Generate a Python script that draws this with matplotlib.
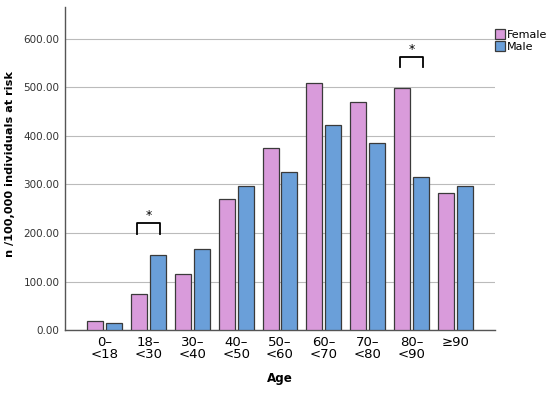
import numpy as np
import matplotlib.pyplot as plt

# age groups and incidence per 100,000 at risk
age_groups = ['0–\n<18', '18–\n<30', '30–\n<40', '40–\n<50', '50–\n<60',
              '60–\n<70', '70–\n<80', '80–\n<90', '≥90']
female = [18, 75, 116, 271, 375, 509, 470, 498, 282]
male = [15, 155, 167, 297, 326, 422, 386, 315, 297]

# significant differences: (group index, bracket height)
sig_groups = [1, 7]
sig_heights = [220, 563]

pink = '#D99BDB'
blue = '#6A9FD9'

fig = plt.figure(figsize=(5.5, 3.94), dpi=100)
ax = fig.add_axes([0.118, 0.162, 0.782, 0.82])

x = np.arange(len(age_groups))
w = 0.365
off = 0.215
ax.bar(x - off, female, w, color=pink, edgecolor='#3a3a3a', linewidth=0.9, label='Female', zorder=3)
ax.bar(x + off, male, w, color=blue, edgecolor='#3a3a3a', linewidth=0.9, label='Male', zorder=3)

for g, h in zip(sig_groups, sig_heights):
    ax.plot([g - 0.27, g - 0.27, g + 0.27, g + 0.27], [h - 22, h, h, h - 22],
            color='black', linewidth=1.3, zorder=4)
    ax.text(g, h + 2, '*', ha='center', va='bottom', fontsize=9)

ax.set_xlim(-0.91, 8.91)
ax.set_ylim(0, 665)
ax.set_yticks(np.arange(0, 601, 100))
ax.set_yticklabels([f'{v:.2f}' for v in np.arange(0, 601, 100)], fontsize=7.5, color='#333333')
ax.set_xticks(x)
ax.set_xticklabels(age_groups, fontsize=9.5, linespacing=0.95)
ax.tick_params(axis='y', length=0, pad=4)
ax.tick_params(axis='x', length=0, pad=4)
ax.grid(axis='y', color='#bbbbbb', linewidth=0.8, zorder=0)
for s in ['top', 'right']:
    ax.spines[s].set_visible(False)
for s in ['left', 'bottom']:
    ax.spines[s].set_color('#555555')
    ax.spines[s].set_linewidth(1.0)

ax.set_ylabel('n /100,000 individuals at risk', fontsize=8.1, fontweight='bold')
ax.yaxis.set_label_coords(-0.116, 0.514)
ax.set_xlabel('Age', fontsize=8.6, fontweight='bold')
ax.xaxis.set_label_coords(0.5, -0.13)

leg = ax.legend(loc='upper left', bbox_to_anchor=(0.99, 0.945), frameon=False, fontsize=8,
                handlelength=0.9, handleheight=0.9, handletextpad=0.2, labelspacing=0.15,
                borderaxespad=0)

fig.savefig('out.png', dpi=100)
